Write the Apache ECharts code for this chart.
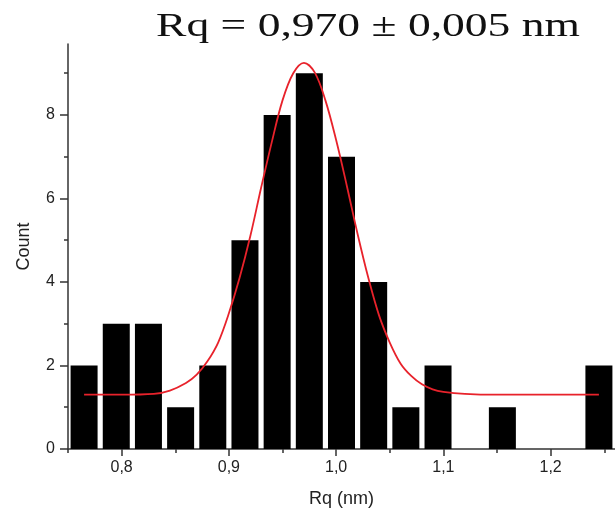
<!DOCTYPE html>
<html>
<head>
<meta charset="utf-8">
<script src="https://cdn.jsdelivr.net/npm/echarts@6/dist/echarts.min.js"></script>
<style>html,body{margin:0;padding:0;background:#fff}#c{width:615px;height:513px}</style>
</head>
<body>
<div id="c"></div>
<script>
// ---- data ----
const titleText = 'Rq = 0,970 \u00b1 0,005 nm';
const binCenters = [0.765,0.795,0.825,0.855,0.885,0.915,0.945,0.975,1.005,1.035,1.065,1.095,1.125,1.155,1.185,1.215,1.245];
const counts     = [2,3,3,1,2,5,8,9,7,4,1,2,0,1,0,0,2];
const fitX = [0.765,0.80,0.83,0.845,0.86,0.87,0.88,0.89,0.90,0.91,0.92,0.93,0.94,0.95,0.96,0.97,0.98,0.99,1.00,1.01,1.02,1.03,1.04,1.05,1.06,1.07,1.08,1.09,1.10,1.12,1.15,1.245];
const fitY = [1.30,1.30,1.32,1.40,1.58,1.78,2.10,2.55,3.25,4.10,5.10,6.25,7.35,8.35,9.00,9.25,9.02,8.35,7.40,6.30,5.15,4.10,3.20,2.55,2.05,1.75,1.55,1.43,1.37,1.32,1.30,1.30];
const xMajorTicks = [0.8,0.9,1.0,1.1,1.2];
const xMinorTicks = [0.75,0.85,0.95,1.05,1.15,1.25];
const yMajorTicks = [0,2,4,6,8];
const yMinorTicks = [1,3,5,7,9];
const xName = 'Rq (nm)';
const yName = 'Count';

const chart = echarts.init(document.getElementById('c'), null, {renderer:'canvas'});
const axisColor = '#333';
const labelColor = '#222';
const fam = '"Liberation Sans", Arial, sans-serif';
const fmt = v => v.toFixed(1).replace('.', ',');

chart.setOption({
  animation: false,
  backgroundColor: '#fff',
  grid: {left: 68, right: -1, top: 44, bottom: 64, containLabel: false},
  graphic: [{
    type: 'text',
    x: 368, y: 27,
    scaleX: 1.38, scaleY: 1,
    style: {
      text: titleText,
      font: '33px "Liberation Serif", "DejaVu Serif", serif',
      fill: '#111',
      textAlign: 'center',
      textVerticalAlign: 'middle'
    }
  }],
  xAxis: [{
    type: 'value', min: 0.75, max: 1.26,
    position: 'bottom',
    axisLine: {show: true, onZero: false, lineStyle: {color: axisColor, width: 1.5}},
    axisTick: {show: true, customValues: xMajorTicks, length: 7, lineStyle: {color: axisColor, width: 1.5}},
    axisLabel: {customValues: xMajorTicks, formatter: fmt, fontSize: 16, color: labelColor, fontFamily: fam, margin: 11},
    splitLine: {show: false},
    name: xName, nameLocation: 'middle', nameGap: 41,
    nameTextStyle: {fontSize: 18, color: labelColor, fontFamily: fam}
  }, {
    type: 'value', min: 0.75, max: 1.26,
    position: 'bottom',
    axisLine: {show: false, onZero: false},
    axisTick: {show: true, customValues: xMinorTicks, length: 4, lineStyle: {color: axisColor, width: 1.5}},
    axisLabel: {show: false},
    splitLine: {show: false}
  }],
  yAxis: [{
    type: 'value', min: 0, max: 9.7,
    position: 'left',
    axisLine: {show: true, onZero: false, lineStyle: {color: axisColor, width: 1.5}},
    axisTick: {show: true, customValues: yMajorTicks, length: 8, lineStyle: {color: axisColor, width: 1.5}},
    axisLabel: {customValues: yMajorTicks, fontSize: 16, color: labelColor, fontFamily: fam, margin: 13},
    splitLine: {show: false},
    name: yName, nameLocation: 'middle', nameGap: 35,
    nameTextStyle: {fontSize: 18, color: labelColor, fontFamily: fam}
  }, {
    type: 'value', min: 0, max: 9.7,
    position: 'left',
    axisLine: {show: false, onZero: false},
    axisTick: {show: true, customValues: yMinorTicks, length: 4, lineStyle: {color: axisColor, width: 1.5}},
    axisLabel: {show: false},
    splitLine: {show: false}
  }],
  series: [{
    type: 'bar',
    xAxisIndex: 0, yAxisIndex: 0,
    data: binCenters.map((c, i) => [c, counts[i]]),
    barWidth: 27,
    itemStyle: {color: '#000'},
    silent: true
  }, {
    type: 'line',
    xAxisIndex: 0, yAxisIndex: 0,
    data: fitX.map((x, i) => [x, fitY[i]]),
    smooth: 0.35,
    showSymbol: false,
    lineStyle: {color: '#e8222b', width: 1.8},
    z: 5,
    silent: true
  }]
});
</script>
</body>
</html>
